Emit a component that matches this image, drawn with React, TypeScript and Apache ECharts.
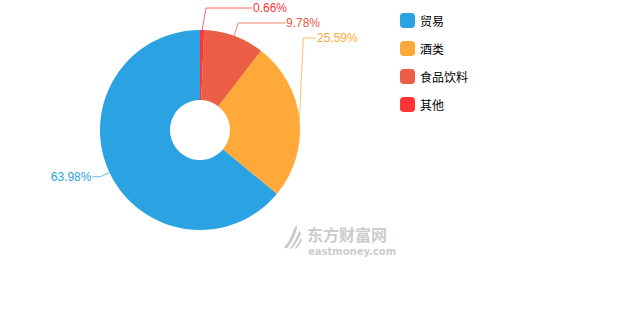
import React, { useEffect, useRef } from "react";
import * as echarts from "echarts";

const categories = ["贸易", "酒类", "食品饮料", "其他"];
const shares = [63.98, 25.59, 9.78, 0.66];
const colors = ["#2ba3e2", "#ffa93b", "#e95e44", "#ff3434"];

// label anchor positions for the stacked right-side labels (style only)
const rightLabelAnchors: Record<string, [number, number]> = {
  其他: [253, 8],
  食品饮料: [286, 23],
  酒类: [317, 38],
};

const LOGO_D =
  "M1 23 C5 19 9 12 12 3 L15 0 C14 9 10 17 4 24 Z M7 24 C11 19 15 12 17 6 L19 8 C17 14 13 20 9 24 Z M12 24 C15 21 17 17 19 13 L20 15 C18 19 16 22 14 24 Z";

export default function App() {
  const ref = useRef<HTMLDivElement>(null);
  useEffect(() => {
    if (!ref.current) return;
    try {
      echarts.graphic.registerShape("emlogo", echarts.graphic.extendPath(LOGO_D, {}));
    } catch (e) {}
    const chart = echarts.init(ref.current, null, { renderer: "svg" });
    const font = "Arial, 'Noto Sans CJK SC', sans-serif";
    chart.setOption({
      animation: false,
      color: colors,
      legend: {
        orient: "vertical",
        left: 395,
        top: 8,
        itemWidth: 15,
        itemHeight: 15,
        itemGap: 13,
        icon: "roundRect",
        textStyle: { fontSize: 12, color: "#000", fontFamily: "'Noto Sans CJK SC', sans-serif" },
        data: categories,
      },
      graphic: [
        {
          type: "emlogo",
          x: 283,
          y: 225,
          scaleX: 0.95,
          scaleY: 0.98,
          style: { fill: "#c8c8c8" },
          silent: true,
        },
        {
          type: "text",
          x: 307,
          y: 234,
          silent: true,
          style: {
            text: "东方财富网",
            fontSize: 16,
            fontWeight: "bold",
            fill: "#cccccc",
            fontFamily: "'Noto Sans CJK SC', sans-serif",
            verticalAlign: "middle",
          },
        },
        {
          type: "text",
          x: 308,
          y: 251,
          silent: true,
          style: {
            text: "eastmoney.com",
            fontSize: 10,
            fontWeight: "bold",
            fill: "#cccccc",
            fontFamily: "Verdana, 'DejaVu Sans', sans-serif",
            verticalAlign: "middle",
          },
        },
      ],
      series: [
        {
          type: "pie",
          center: [200, 130],
          radius: [30, 100],
          clockwise: false,
          startAngle: 90,
          data: categories.map((c, i) => ({
            name: c,
            value: shares[i],
            label: { color: colors[i] },
          })),
          label: {
            show: true,
            position: "outside",
            formatter: "{c}%",
            fontSize: 12,
            fontFamily: font,
            distanceToLabelLine: 1,
          },
          labelLine: { show: true, length: 10, length2: 8, lineStyle: { width: 1, opacity: 0.75 } },
          emphasis: { disabled: true },
          labelLayout: (params: any) => {
            const name = categories[params.dataIndex];
            const anchor = rightLabelAnchors[name];
            if (!anchor || !params.labelLinePoints) return {};
            const p0 = params.labelLinePoints[0];
            const [tx, ty] = anchor;
            return {
              x: tx,
              y: ty,
              align: "left",
              verticalAlign: "middle",
              labelLinePoints: [p0, [p0[0] + 4, ty], [tx - 1, ty]],
            };
          },
        },
      ],
    });
    return () => chart.dispose();
  }, []);
  return (
    <div
      ref={ref}
      style={{ position: "absolute", left: 0, top: 0, width: 630, height: 330 }}
    />
  );
}
